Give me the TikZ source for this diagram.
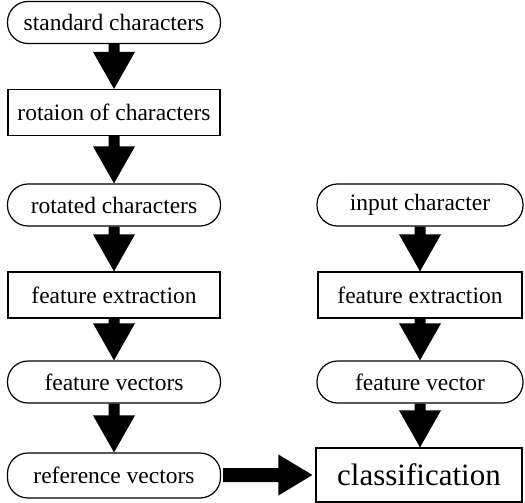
\documentclass[tikz,border=0pt]{standalone}
\usepackage{fontspec}
\setmainfont{Liberation Serif}
\usetikzlibrary{calc}
\begin{document}
\begin{tikzpicture}[x=1pt,y=-1pt,
  every node/.style={font=\fontsize{23.5}{26}\selectfont, draw=black, line width=1.2pt, inner sep=0pt, anchor=center},
  pill/.style={rounded corners=20.5pt, minimum width=#1, minimum height=42pt},
  pill/.default=213pt,
  procbox/.style={rectangle, minimum width=#1, minimum height=46pt},
  procbox/.default=212pt,
  bigarrow/.style={fill=black, draw=none}]
\useasboundingbox (0,0) rectangle (525,503);
% left column
\node[pill]    (sc)  at (114,22.5)  {standard characters};
\node[procbox] (roc) at (114,112.5) {rotaion of characters};
\node[pill]    (rc)  at (114,205)   {rotated characters};
\node[procbox] (fe)  at (114,295)   {feature extraction};
\node[pill]    (fv)  at (114,382)   {feature vectors};
\node[pill, minimum height=45pt] (rv) at (114,475.5) {reference vectors};
% right column
\node[pill=206pt]    (ic)  at (420,205) {input character};
\node[procbox=204pt] (fe2) at (420,295) {feature extraction};
\node[pill=206pt]    (fv2) at (420,382) {feature vector};
\node[procbox=206pt, minimum height=54pt, font=\fontsize{31}{34}\selectfont] (cl) at (419,475) {classification};
% block arrows (canvas y points up inside let)
\newcommand{\downblock}[2]{%
  \fill[bigarrow] let \p1=(#1.south), \p2=(#2.north) in
    (\x1-5.5,\y1) -- (\x1+5.5,\y1) -- (\x1+5.5,\y2+37) -- (\x1+21,\y2+37)
    -- (\x1,\y2) -- (\x1-21,\y2+37) -- (\x1-5.5,\y2+37) -- cycle;}
\downblock{sc}{roc}
\downblock{roc}{rc}
\downblock{rc}{fe}
\downblock{fe}{fv}
\downblock{fv}{rv}
\downblock{ic}{fe2}
\downblock{fe2}{fv2}
\downblock{fv2}{cl}
\fill[bigarrow] let \p1=(rv.east), \p2=(cl.west) in
  (\x1+2,\y2-7) -- (\x2-37,\y2-7) -- (\x2-37,\y2-20.5) -- (\x2-3,\y2)
  -- (\x2-37,\y2+20.5) -- (\x2-37,\y2+7) -- (\x1+2,\y2+7) -- cycle;
\end{tikzpicture}
\end{document}
